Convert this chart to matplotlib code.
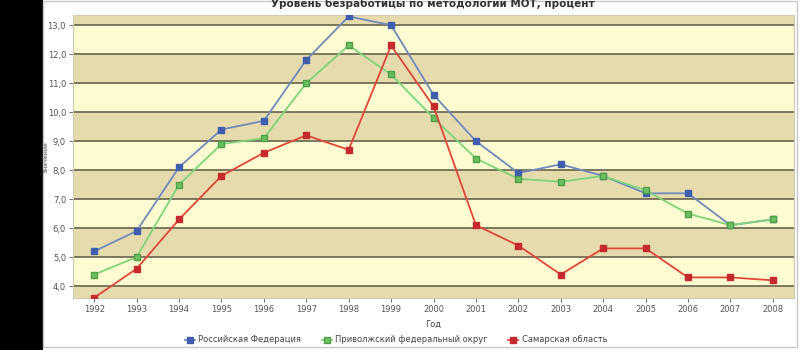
import matplotlib
matplotlib.use("Agg")
from matplotlib import pyplot as plt
from matplotlib.patches import Rectangle
from matplotlib.ticker import FuncFormatter
import numpy as np

plt.rcParams["font.family"] = ["Liberation Sans Narrow", "DejaVu Sans"]

years = list(range(1992, 2009))
rf = [5.2, 5.9, 8.1, 9.4, 9.7, 11.8, 13.3, 13.0, 10.6, 9.0, 7.9, 8.2, 7.8, 7.2, 7.2, 6.1, 6.3]
pfo = [4.4, 5.0, 7.5, 8.9, 9.1, 11.0, 12.3, 11.3, 9.8, 8.4, 7.7, 7.6, 7.8, 7.3, 6.5, 6.1, 6.3]
samara = [3.6, 4.6, 6.3, 7.8, 8.6, 9.2, 8.7, 12.3, 10.2, 6.1, 5.4, 4.4, 5.3, 5.3, 4.3, 4.3, 4.2]
names = ["Российская Федерация", "Приволжский федеральный округ", "Самарская область"]

fig = plt.figure(figsize=(8, 3.5), dpi=100)
fig.patch.set_facecolor("white")

# чёрная полоса слева и рамка
fig.patches.append(Rectangle((0, 0), 43 / 800, 1, transform=fig.transFigure,
                             facecolor="black", edgecolor="none", zorder=0))
fig.patches.append(Rectangle((43 / 800, 3 / 350), 754 / 800, 346 / 350, transform=fig.transFigure,
                             facecolor="none", edgecolor="#c8c8c8", linewidth=1, zorder=0))

ax = fig.add_axes([73 / 800, 52 / 350, 721 / 800, 283 / 350])
ax.set_xlim(1991.5, 2008.5)
ax.set_ylim(3.59, 13.35)

# полосы фона
for lo in range(3, 14):
    c = "#e6dbad" if lo % 2 == 1 else "#fdfbcf"
    ax.axhspan(lo, lo + 1, facecolor=c, edgecolor="none", zorder=0)
for v in range(4, 14):
    ax.axhline(v, color="#66634c", linewidth=1.2, zorder=1)

ax.plot(years, rf, color="#7089bf", linewidth=1.3, marker="s", markersize=4,
        markerfacecolor="#3f5fae", markeredgecolor="#3f5fae", label=names[0], zorder=3)
ax.plot(years, pfo, color="#7fd47a", linewidth=1.3, marker="s", markersize=4,
        markerfacecolor="#6cbf62", markeredgecolor="#4f9f48", label=names[1], zorder=4)
ax.plot(years, samara, color="#e0463a", linewidth=1.3, marker="s", markersize=4,
        markerfacecolor="#c52a2e", markeredgecolor="#c52a2e", label=names[2], zorder=5)

ax.set_xticks(years)
ax.set_yticks(np.arange(4, 14, 1))
ax.yaxis.set_major_formatter(FuncFormatter(lambda v, p: ("%.1f" % v).replace(".", ",")))
ax.tick_params(axis="both", labelsize=6, colors="#555555", length=3, width=0.6, pad=2)
for s in ax.spines.values():
    s.set_color("#cfcab0")
    s.set_linewidth(0.8)

ax.set_xlabel("Год", fontsize=6, color="#444444", labelpad=4)
fig.text(44 / 800, 0.55, "Значение", rotation=90, fontsize=4.5, color="#444444",
         ha="left", va="center")
fig.text(433 / 800, 0.99, "Уровень безработицы по методологии МОТ, процент",
         fontsize=7.5, fontweight="bold", color="#333333", ha="center", va="center")

fig.legend(loc="center", bbox_to_anchor=(0.495, 10 / 350), ncol=3, frameon=False,
           fontsize=6, handlelength=1.2, handletextpad=0.4, columnspacing=2.5,
           labelcolor="#444444")

plt.savefig("out.png", dpi=100)
